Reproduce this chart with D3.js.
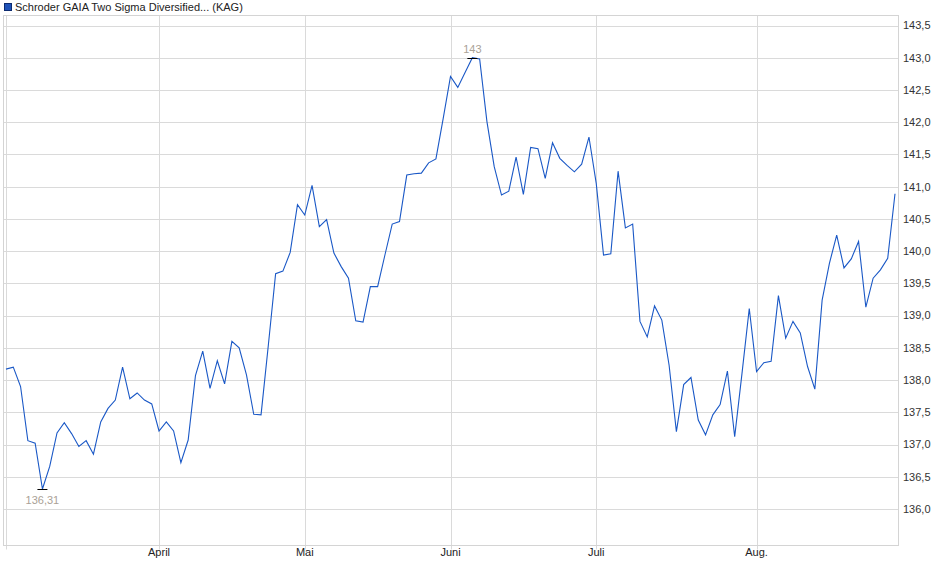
<!DOCTYPE html>
<html>
<head>
<meta charset="utf-8">
<script src="https://cdn.jsdelivr.net/npm/d3@7"></script>
<style>
  html, body { margin: 0; padding: 0; background: #fff; }
  svg { display: block; font-family: "Liberation Sans", Arial, sans-serif; }
</style>
</head>
<body>
<div id="chart"></div>
<script>
// Schroder GAIA Two Sigma Diversified (KAG) - daily prices, March to August
const seriesName = "Schroder GAIA Two Sigma Diversified... (KAG)";
const prices = [
  138.17, 138.20, 137.90, 137.06, 137.02, 136.31, 136.66, 137.18, 137.34, 137.17,
  136.97, 137.06, 136.85, 137.35, 137.56, 137.69, 138.20, 137.71, 137.80, 137.69,
  137.63, 137.21, 137.35, 137.21, 136.72, 137.07, 138.07, 138.45, 137.87, 138.30,
  137.94, 138.60, 138.50, 138.08, 137.47, 137.46, 138.54, 139.65, 139.69, 139.98,
  140.72, 140.56, 141.02, 140.38, 140.49, 139.97, 139.76, 139.58, 138.92, 138.90,
  139.45, 139.45, 139.94, 140.42, 140.46, 141.18, 141.20, 141.21, 141.37, 141.43,
  142.06, 142.71, 142.54, 142.77, 143.00, 142.98, 142.01, 141.31, 140.87, 140.93,
  141.46, 140.88, 141.61, 141.59, 141.13, 141.68, 141.44, 141.33, 141.23, 141.35,
  141.77, 141.05, 139.94, 139.96, 141.24, 140.36, 140.42, 138.91, 138.67, 139.15,
  138.93, 138.23, 137.20, 137.93, 138.04, 137.38, 137.15, 137.46, 137.62, 138.14,
  137.12, 138.10, 139.11, 138.13, 138.27, 138.29, 139.31, 138.65, 138.91, 138.73,
  138.21, 137.86, 139.24, 139.81, 140.25, 139.74, 139.88, 140.15, 139.13, 139.58,
  139.71, 139.89, 140.89
];
// first trading day of each month (index into prices)
const monthLabels = ["", "April", "Mai", "Juni", "Juli", "Aug."];
const monthStart = [0, 21, 41, 61, 81, 103];
const yTicks = d3.range(136, 143.51, 0.5);

const W = 940, H = 579;
const svg = d3.select("#chart").append("svg").attr("width", W).attr("height", H);

const x = d3.scaleLinear().domain([0, prices.length - 1]).range([6, 895]);
const y = d3.scaleLinear().domain([136, 143.5]).range([509, 25.5]);

const plotL = 3.5, plotR = 898.5, plotT = 15.5, plotB = 545.5;
const fmt = v => d3.format(".1f")(v).replace(".", ",");

// horizontal grid
svg.append("g").selectAll("line").data(yTicks).enter().append("line")
  .attr("x1", plotL).attr("x2", plotR)
  .attr("y1", d => Math.round(y(d)) + 0.5).attr("y2", d => Math.round(y(d)) + 0.5)
  .attr("stroke", "#dadada").attr("stroke-width", 1);

// vertical month grid
const months = monthStart.map((d, i) => ({ index: d, label: monthLabels[i] }));
svg.append("g").selectAll("line").data(months).enter().append("line")
  .attr("x1", d => Math.round(x(d.index)) + 0.5).attr("x2", d => Math.round(x(d.index)) + 0.5)
  .attr("y1", plotT).attr("y2", plotB + 4)
  .attr("stroke", "#dadada").attr("stroke-width", 1);

// frame
svg.append("rect")
  .attr("x", plotL).attr("y", plotT)
  .attr("width", plotR - plotL).attr("height", plotB - plotT)
  .attr("fill", "none").attr("stroke", "#d4d4d4");

// y labels (right side)
svg.append("g").selectAll("text").data(yTicks).enter().append("text")
  .attr("x", 903).attr("y", d => y(d)).attr("dy", "0.35em")
  .attr("font-size", 11).attr("fill", "#333")
  .text(d => fmt(d));

// x labels
svg.append("g").selectAll("text").data(months.filter(d => d.label)).enter().append("text")
  .attr("x", d => x(d.index)).attr("y", 556)
  .attr("text-anchor", "middle").attr("font-size", 11).attr("fill", "#222")
  .text(d => d.label);

// price line
const line = d3.line().x((d, i) => x(i)).y(d => y(d));
svg.append("path").datum(prices)
  .attr("fill", "none").attr("stroke", "#1a58c6").attr("stroke-width", 1.1)
  .attr("stroke-linejoin", "miter")
  .attr("d", line);

// min / max markers
const minI = d3.minIndex(prices), maxI = d3.maxIndex(prices);
const marks = [
  { i: minI, v: prices[minI], dy: 15 },
  { i: maxI, v: prices[maxI], dy: -5 }
];
marks.forEach(m => {
  svg.append("line")
    .attr("x1", x(m.i) - 5).attr("x2", x(m.i) + 5)
    .attr("y1", Math.round(y(m.v)) + 0.5).attr("y2", Math.round(y(m.v)) + 0.5)
    .attr("stroke", "#000").attr("stroke-width", 1);
  svg.append("text")
    .attr("x", x(m.i)).attr("y", y(m.v) + m.dy)
    .attr("text-anchor", "middle").attr("font-size", 11).attr("fill", "#aaa196")
    .text(String(m.v).replace(".", ","));
});

// legend
svg.append("rect").attr("x", 4.5).attr("y", 3.5).attr("width", 7).attr("height", 7)
  .attr("fill", "#1f52b8").attr("stroke", "#0d2b70");
svg.append("text").attr("x", 15).attr("y", 11)
  .attr("font-size", 11).attr("fill", "#222")
  .text(seriesName);
</script>
</body>
</html>
